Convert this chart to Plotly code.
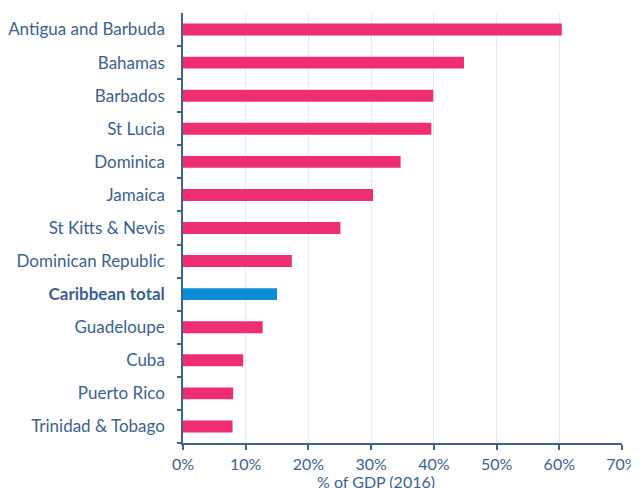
import plotly.graph_objects as go

countries = ["Antigua and Barbuda", "Bahamas", "Barbados", "St Lucia", "Dominica",
             "Jamaica", "St Kitts & Nevis", "Dominican Republic", "Caribbean total",
             "Guadeloupe", "Cuba", "Puerto Rico", "Trinidad & Tobago"]
values = [60.4, 44.8, 39.9, 39.6, 34.7, 30.3, 25.1, 17.35, 15.0, 12.7, 9.6, 8.0, 7.9]
highlight = "Caribbean total"
x_ticks = [0, 10, 20, 30, 40, 50, 60, 70]
x_ticklabels = [f"{v}%" for v in x_ticks]

PINK = "#EF2D72"
BLUE = "#0A8DD6"
TXT = "#3E5F8E"

colors = [BLUE if c == highlight else PINK for c in countries]
ticktext = [f"<b>{c}</b>" if c == highlight else c for c in countries]

fig = go.Figure(go.Bar(
    x=values, y=countries, orientation="h",
    marker=dict(color=colors, line=dict(width=0)),
))

# page body has an 8px margin, so figure coords are offset by 8px
fig.update_layout(
    width=631, height=480,
    margin=dict(l=175, r=17, t=5, b=45, autoexpand=False),
    paper_bgcolor="white", plot_bgcolor="white",
    bargap=0.64,
    showlegend=False,
    font=dict(family="Lato, Open Sans, sans-serif", size=17, color=TXT),
)
fig.update_yaxes(
    categoryorder="array", categoryarray=countries[::-1],
    tickvals=countries, ticktext=ticktext,
    showline=True, linecolor="#41628F", linewidth=1.5,
    ticks="outside", ticklen=4, tickcolor="#41628F", tickwidth=1.5,
    tickson="boundaries", showgrid=False, ticklabelstandoff=13,
    automargin=False,
)
fig.update_xaxes(
    range=[0, 70], tickvals=x_ticks, ticktext=x_ticklabels,
    showline=True, linecolor="#41628F", linewidth=1.5,
    ticks="outside", ticklen=5, tickcolor="#41628F", tickwidth=1.5,
    showgrid=True, gridcolor="#EBEBEB", gridwidth=1, zeroline=False,
    automargin=False, ticklabelstandoff=1, ticklabeloverflow="allow",
    tickfont=dict(size=16),
)
fig.add_annotation(
    text="% of GDP (2016)", xref="paper", yref="paper",
    x=(368 - 175) / (631 - 175 - 17), y=0, yshift=-28,
    xanchor="center", yanchor="top", showarrow=False,
    font=dict(size=16, color=TXT), borderpad=0,
)
fig.write_html("out.html")
